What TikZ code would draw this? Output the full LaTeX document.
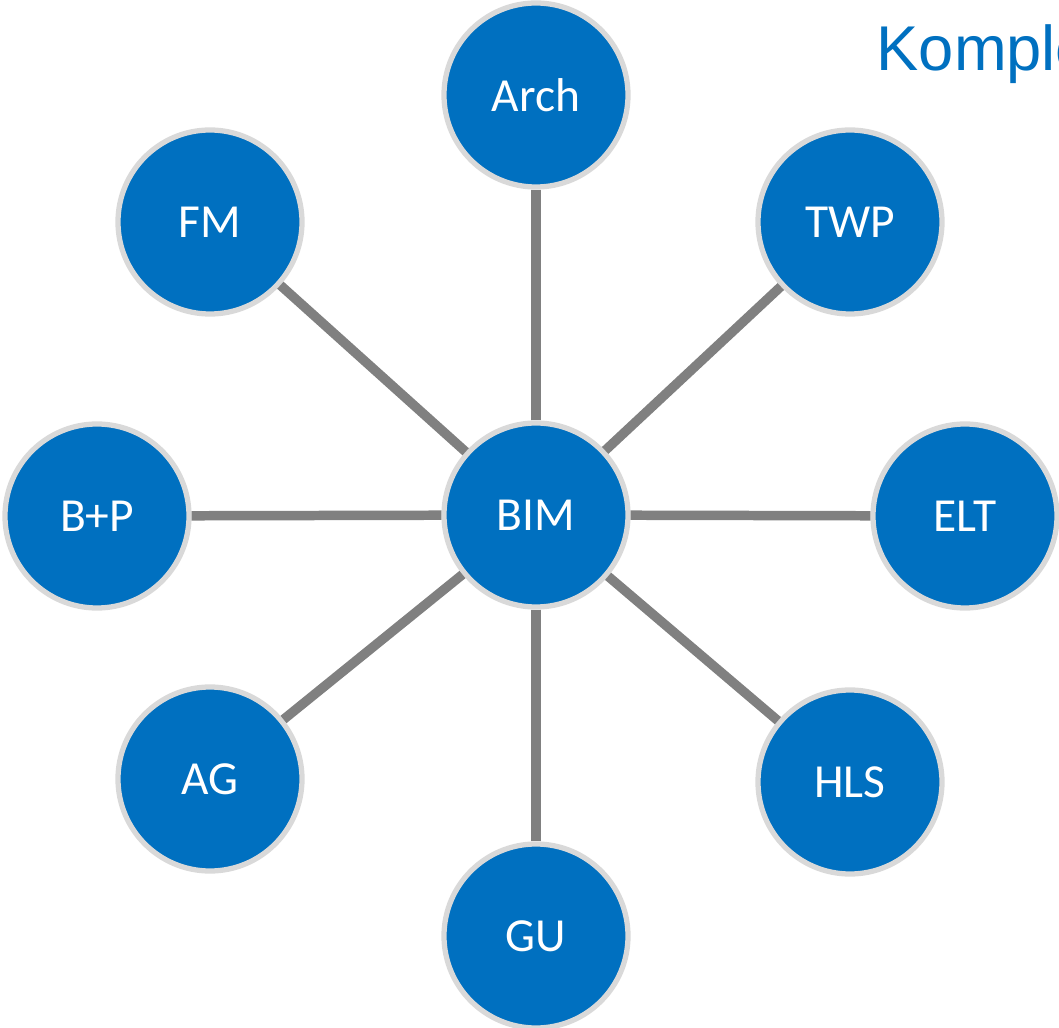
\documentclass[tikz,border=0pt]{standalone}
\usepackage{fontspec}
\setmainfont{Carlito}
\newfontfamily\titlefont{Liberation Sans}
\definecolor{bimblue}{HTML}{0070C0}
\definecolor{ringgray}{HTML}{D9D9D9}
\definecolor{linkgray}{HTML}{808080}

\begin{document}
\begin{tikzpicture}[
    disc/.style={circle, fill=bimblue, draw=ringgray, line width=1.5pt,
      minimum size=1.84cm, inner sep=0pt, text=white, font=\fontsize{13.5}{15}\selectfont},
    link/.style={draw=linkgray, line width=2.7pt}
  ]
      \useasboundingbox (0, 0) rectangle (10.59, 10.27);

      \node[disc] (bim) at (5.36, 5.12) {BIM};
      \node[disc] (arch) at (5.36, 9.32) {Arch};
      \node[disc] (fm) at (2.10, 8.05) {FM};
      \node[disc] (twp) at (8.50, 8.05) {TWP};
      \node[disc] (bp) at (0.97, 5.11) {B+P};
      \node[disc] (elt) at (9.65, 5.11) {ELT};
      \node[disc] (ag) at (2.10, 2.48) {AG};
      \node[disc] (hls) at (8.50, 2.45) {HLS};
      \node[disc] (gu) at (5.36, 0.91) {GU};

      \path[link] (bim) -- (arch);
      \path[link] (bim) -- (fm);
      \path[link] (bim) -- (twp);
      \path[link] (bim) -- (bp);
      \path[link] (bim) -- (elt);
      \path[link] (bim) -- (ag);
      \path[link] (bim) -- (hls);
      \path[link] (bim) -- (gu);

      \node[anchor=base west, inner sep=0pt, text=bimblue, font=\titlefont\fontsize{18}{20}\selectfont] (title) at (8.76, 9.56) {Komple};
\end{tikzpicture}
\end{document}
